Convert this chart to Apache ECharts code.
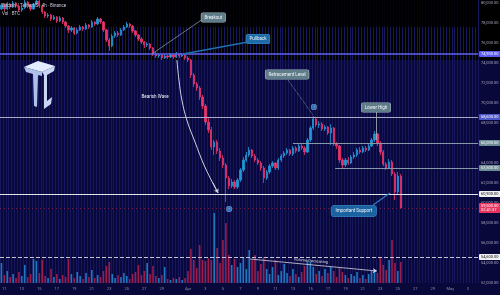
<!DOCTYPE html>
<html>
<head>
<meta charset="utf-8">
<title>BTCUSDT</title>
<script src="https://cdn.jsdelivr.net/npm/echarts@6/dist/echarts.min.js"></script>
<style>
html, body { margin: 0; padding: 0; background: #000; }
#main { width: 500px; height: 295px; }
</style>
</head>
<body>
<div id="main"></div>
<script>
// candles, one per slot (8h)
const openP = [79400,79800,79400,79900,79600,80000,79700,79300,79500,80100,
  79700,79400,79900,80200,79700,79100,78700,78800,78400,78600,
  78200,78500,78100,77700,77300,77500,77000,77300,77600,77400,
  77800,77600,78100,77900,78400,78100,77300,76300,75700,76700,
  77000,76800,77300,77600,77900,77700,77200,76800,76400,76100,
  75800,75900,75500,74900,74700,74800,74500,74700,74600,74800,
  74600,74900,74700,74800,74500,74300,72800,71900,71500,70600,
  69700,68100,67300,65600,66100,65200,64500,63800,62500,61700,
  62100,61600,62300,63300,64300,64800,65300,64700,64300,64000,
  63500,62500,63100,63700,64000,63500,64300,64700,65000,65300,
  64900,65500,65200,65700,65500,65100,66300,67500,68400,67800,
  67900,67400,67600,67000,67500,65900,65700,64300,63800,64300,
  64000,64600,64800,65300,65100,65500,65300,65700,66300,66900,
  66000,65100,63900,63500,64100,62900,61100,62700];
const closeP = [79800,79400,79900,79600,80000,79700,79300,79500,80100,79700,
  79400,79900,80200,79700,79100,78700,78800,78400,78600,78200,
  78500,78100,77700,77300,77500,77000,77300,77600,77400,77800,
  77600,78100,77900,78400,78100,77300,76300,75700,76700,77000,
  76800,77300,77600,77900,77700,77200,76800,76400,76100,75800,
  75900,75500,74900,74700,74800,74500,74700,74600,74800,74600,
  74900,74700,74800,74500,74300,72800,71900,71500,70600,69700,
  68100,67300,65600,66100,65200,64500,63800,62500,61700,62100,
  61600,62300,63300,64300,64800,65300,64700,64300,64000,63500,
  62500,63100,63700,64000,63500,64300,64700,65000,65300,64900,
  65500,65200,65700,65500,65100,66300,67500,68400,67800,67900,
  67400,67600,67000,67500,65900,65700,64300,63800,64300,64000,
  64600,64800,65300,65100,65500,65300,65700,66300,66900,66000,
  65100,63900,63500,64100,62900,61100,62700,59500];
const lowP = [79300,79200,79300,79400,79500,79500,79100,79100,79400,79500,
  79200,79300,79800,79500,78900,78500,78500,78200,78300,78000,
  78100,77900,77500,77000,77100,76800,76900,77200,77200,77300,
  77400,77500,77700,77800,77900,77100,76100,75200,75600,76500,
  76600,76700,77200,77500,77500,77000,76600,76200,75900,75500,
  75600,75300,74700,74500,74500,74300,74400,74400,74500,74400,
  74500,74500,74600,74300,74100,72500,71600,71200,70300,69400,
  67800,67000,65300,64800,64900,64200,63500,60100,61400,61500,
  61400,61400,62100,63100,64100,64600,64500,64100,63800,63200,
  62000,62300,62900,63500,63300,63300,64100,64500,64800,64700,
  64700,65000,65100,65300,64800,65000,66100,67300,67600,67500,
  67200,67200,66800,65800,65700,65400,64000,63500,63600,63800,
  63900,64400,64600,64900,65000,65100,65200,65600,66100,65700,
  64800,63700,63300,63400,62700,60300,60900,59400];
const highP = [80000,79900,80100,80000,80200,80100,79800,79700,80300,80200,
  79900,80000,80300,80300,79800,79200,79000,78900,78800,78700,
  78700,78600,78200,77800,77700,77600,77500,77800,77700,78000,
  77900,78300,78200,78600,78500,78200,77400,76500,76900,77200,
  77200,77500,77800,78100,78000,77800,77300,76900,76600,76200,
  76100,76000,75600,75100,75000,74900,74900,74800,75000,74900,
  75100,75000,75000,74900,74700,74400,73000,72100,71700,70800,
  69900,68500,67600,66300,66300,65500,64800,64000,62700,62400,
  62300,62500,63500,64600,65100,65600,65400,64900,64500,64200,
  63700,63300,63900,64200,64100,64500,64900,65200,65500,65400,
  65700,65700,65900,65900,65700,66500,67700,68700,68500,68200,
  68100,67800,67700,67900,67600,66100,65800,64500,64500,64600,
  64800,65100,65500,65600,65700,65700,65900,66500,67200,67000,
  66200,65300,64100,64400,64300,63100,63100,62900];
// volume in BTC
const volume = [10000,4000,6000,3000,4500,2500,5500,3500,9000,3000,
  4500,12000,11000,5000,11500,3500,2500,7000,3000,4500,
  2000,4000,3000,12000,4500,2500,5500,3500,2000,5000,
  3000,6500,2500,4000,3000,6000,8500,10500,4500,2500,
  4000,3000,5000,3500,2000,4500,5500,9000,4000,6000,
  10000,4500,8500,3500,2500,4000,8000,2000,1500,2500,
  2000,3000,1500,2500,6000,17000,11500,7500,19000,11500,
  11000,12500,11500,35000,17500,10000,21500,30000,14000,9000,
  12000,8000,10000,13000,7000,16500,11500,14000,6000,9500,
  13000,7000,4500,8000,11500,4000,6000,9500,5000,3500,
  7000,4500,3000,5500,8500,11500,10500,8000,4500,6000,
  3500,7000,5000,8000,6000,3000,7500,5500,4000,2500,
  4500,3500,5500,2500,4000,2000,4500,6000,7000,5000,
  12500,9000,6500,11500,21500,10000,6000,10500];

// time axis: 8h slots, first slot 10 Mar 16:00
const slotCount = 164;
const startTime = Date.UTC(2024, 2, 10, 16);
const stepHours = 8;
const monthNames = ['Jan','Feb','Mar','Apr','May','Jun','Jul','Aug','Sep','Oct','Nov','Dec'];

// drawn levels
const levelPrices = [74900, 68600, 66000, 63500, 60900, 54600];
// bearish wave arrow, in (slot, price)
const waveSlots = [60.2, 60.9, 61.9, 63.6, 66.4, 69.8, 74.3];
const wavePrices = [74300, 72300, 70300, 68300, 66100, 63600, 61000];
const noteTexts = ['Breakout', 'Pullback', 'Bearish Wave', 'Retracement Level',
  'Lower High', 'Important Support', 'Volume Decreasing'];

var slots = [], tickText = [];
for (var i = 0; i < slotCount; i++) {
  var d = new Date(startTime + i * stepHours * 3600000);
  slots.push(d.toISOString().slice(0, 13));
  var day = d.getUTCDate(), t = '';
  if (d.getUTCHours() === 0) {
    if (day === 1) t = monthNames[d.getUTCMonth()];
    else if (day % 2 === 1 && day !== 31) t = String(day);
  }
  tickText.push(t);
}

var fmt = function (v) {
  return v.toLocaleString('en-US', {minimumFractionDigits: 2, maximumFractionDigits: 2});
};
var last = closeP.length - 1;
var kData = openP.map(function (o, i) { return [o, closeP[i], lowP[i], highP[i]]; });
var volData = volume.map(function (v, i) {
  return {value: v, itemStyle: {color: closeP[i] >= openP[i] ? '#1f78be' : '#9c1d4a'}};
});
var waveData = waveSlots.map(function (s, i) { return [s, wavePrices[i]]; });

var endX = slotCount - 0.5;
function tagLabel(text, bg, fg) {
  return {show: true, position: 'end', distance: 1, formatter: text, fontSize: 4,
    color: fg, backgroundColor: bg, padding: [1, 2], borderRadius: 1};
}
function level(price, from, color, type, width, bg, fg, text) {
  var ls = {color: color, type: type, width: width};
  var lb = tagLabel(text || fmt(price), bg, fg);
  return [{coord: [from, price], lineStyle: ls, label: lb}, {coord: [endX, price], lineStyle: ls, label: lb}];
}
function leader(x1, y1, x2, y2, color, type, width, arrow) {
  var ls = {color: color, type: type, width: width};
  return [{coord: [x1, y1], lineStyle: ls, label: {show: false}},
    {coord: [x2, y2], lineStyle: ls, label: {show: false}, symbol: arrow ? 'arrow' : 'none', symbolSize: 4}];
}
function note(text, x, y, bg, border, extra) {
  var lb = {show: true, position: 'inside', formatter: text, fontSize: 4.5, color: '#f2f4f8',
    backgroundColor: bg, borderColor: border, borderWidth: border ? 0.6 : 0,
    borderRadius: 1.5, padding: bg ? [2, 3] : 0};
  if (extra) Object.assign(lb, extra);
  return {coord: [x, y], symbol: 'rect', symbolSize: 1, itemStyle: {color: 'rgba(0,0,0,0)'}, label: lb};
}

var chart = echarts.init(document.getElementById('main'));
var option = {
  backgroundColor: '#000',
  animation: false,
  textStyle: {fontFamily: 'Roboto, sans-serif'},
  title: {
    text: 'Bitcoin / TetherUS · 4h · Binance', subtext: 'Vol · BTC',
    left: 2, top: 3, padding: 0, itemGap: 3, z: 10,
    textStyle: {fontSize: 4.5, color: '#c9c9d9', fontWeight: 'normal'},
    subtextStyle: {fontSize: 4.5, color: '#c9c9d9'}
  },
  graphic: [
    {type: 'rect', z: -10, shape: {x: 0, y: 60, width: 500, height: 235}, style: {fill: '#08083a'}},
    {type: 'rect', z: 1, shape: {x: 0, y: 0, width: 478, height: 27}, style: {fill: 'rgba(0,0,0,0.85)'}},
    {type: 'polygon', z: 3, shape: {points: [[24,67],[38,61],[55,66],[42,72]]}, style: {fill: '#e4ecff'}},
    {type: 'polygon', z: 3, shape: {points: [[24,67],[42,72],[42,76],[38,75],[37,107],[34,106],[33,74],[26,72]]}, style: {fill: '#aebfe8'}},
    {type: 'polygon', z: 3, shape: {points: [[42,72],[55,66],[54,71],[47,75],[47,101],[52,97],[51,104],[44,109],[44,75]]}, style: {fill: '#c9d6f5'}}
  ],
  grid: {left: 0, right: 22, top: 0, bottom: 12, outerBoundsMode: 'none'},
  xAxis: [
    {type: 'category', data: slots, boundaryGap: true,
      axisLine: {show: false}, axisTick: {show: false},
      axisLabel: {interval: 0, fontSize: 4, color: '#8d8da6', margin: 4,
        formatter: function (v, i) { return tickText[i]; }},
      splitLine: {show: true, interval: 0, lineStyle: {color: '#17175f', width: 1}}},
    {type: 'value', min: -0.5, max: endX, show: false}
  ],
  yAxis: [
    {type: 'value', position: 'right', min: 52000, max: 80300, interval: 2000,
      axisLine: {show: false}, axisTick: {show: false}, splitLine: {show: false},
      axisLabel: {fontSize: 4, color: '#a4a4bc', margin: 3, formatter: fmt}},
    {type: 'value', min: 0, max: 141500, show: false}
  ],
  series: [
    {
      name: 'Vol', type: 'bar', xAxisIndex: 0, yAxisIndex: 1, barWidth: 1.6, z: 2,
      data: volData,
      markLine: {
        silent: true, symbol: ['none', 'none'],
        data: [{yAxis: volume[last], lineStyle: {opacity: 0},
          label: tagLabel((volume[last] / 1000).toFixed(2) + 'K', '#e0305a', '#fff')}]
      }
    },
    {
      name: 'BTCUSDT', type: 'candlestick', xAxisIndex: 0, yAxisIndex: 0, barWidth: 1.8, z: 4,
      data: kData,
      itemStyle: {color: '#2196d3', color0: '#e8336a', borderColor: '#2196d3', borderColor0: '#e8336a', borderWidth: 0.8}
    },
    {
      name: 'wave', type: 'line', xAxisIndex: 1, yAxisIndex: 0, z: 5,
      data: waveData, smooth: 0.4, symbol: 'none',
      lineStyle: {color: '#cfd0e0', width: 1},
      markLine: {
        silent: true, symbol: ['none', 'none'],
        data: [
          level(levelPrices[0], -0.5, '#6262f0', 'solid', 1.5, '#5b5bf2', '#fff'),
          level(levelPrices[1], -0.5, '#a9a9c8', 'solid', 1, '#4d57c9', '#fff'),
          level(levelPrices[2], 100, '#8799a6', 'solid', 1, '#6e8a95', '#fff'),
          level(levelPrices[3], 114.5, '#8799a6', 'solid', 1, '#6e8a95', '#fff'),
          level(levelPrices[4], -0.5, '#e4e4ec', 'solid', 1, '#f0f0f5', '#111'),
          level(closeP[last], -0.5, '#8c2346', [1, 3], 0.8, '#e8335f', '#fff', fmt(closeP[last]) + '\n02:41:37'),
          level(levelPrices[5], -0.5, '#c4c4d4', 'dashed', 1, '#f0f0f5', '#111'),
          leader(72.6, 62000, 74.3, 61000, '#cfd0e0', 'solid', 1, true),
          leader(69.1, 78400, 51.6, 74900, '#7d98a2', 'solid', 0.8),
          leader(84.6, 76100, 62.3, 74900, '#1f6fb0', 'solid', 1.6),
          leader(98.3, 72300, 106.9, 68800, '#8fa6ae', 'dotted', 0.8),
          leader(128.5, 69100, 128.5, 66300, '#a9b8bf', 'solid', 0.8),
          leader(127.5, 59800, 133.3, 61000, '#2a7cc0', 'solid', 1.2),
          leader(85.3, 54400, 128.8, 53200, '#d4d4e2', 'solid', 0.8, true)
        ]
      },
      markPoint: {
        silent: true,
        data: [
          note(noteTexts[0], 72.7, 78550, '#5e7d88', '#9fb7bf'),
          note(noteTexts[1], 88, 76400, '#1d6aa6', '#3b8bd0'),
          note(noteTexts[2], 52.7, 70600, null, null),
          note(noteTexts[3], 98, 72850, '#5e7d88', '#9fb7bf'),
          note(noteTexts[4], 128.5, 69550, '#5e7d88', '#9fb7bf'),
          note(noteTexts[5], 120.9, 59200, '#1b63a0', '#3a86c8', {borderRadius: 3, padding: [3, 4]}),
          note(noteTexts[6], 106.2, 54200, null, null, {rotate: -5, fontSize: 4, color: '#d8d8e6'})
        ]
      }
    },
    {
      name: 'markers', type: 'scatter', xAxisIndex: 1, yAxisIndex: 0, z: 6,
      data: [[107.2, 69600], [78.1, 59400]],
      symbol: 'roundRect', symbolSize: 5,
      itemStyle: {color: '#2f86d6', borderColor: '#bcd8f4', borderWidth: 0.5},
      label: {show: true, position: 'inside', formatter: '↑', fontSize: 4, color: '#fff'}
    }
  ]
};
chart.setOption(option);
</script>
</body>
</html>
